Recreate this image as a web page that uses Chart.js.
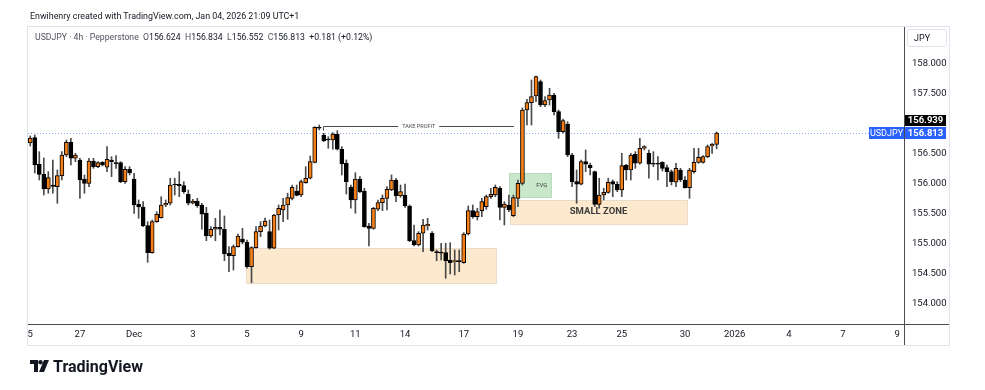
<!DOCTYPE html>
<html>
<head>
<meta charset="utf-8">
<script src="https://cdn.jsdelivr.net/npm/chart.js@4.4.1/dist/chart.umd.min.js"></script>
<style>
  body { margin: 0; background: #fff; font-family: Roboto, "Liberation Sans", sans-serif; color: #131722; }
  #wrap { position: relative; width: 985px; height: 390px; overflow: hidden; }
  #c { position: absolute; left: 0; top: 0; }
  .credit { position: absolute; left: 30px; top: 11px; font-size: 8.9px; white-space: nowrap; }
  .frame { position: absolute; left: 27px; top: 26px; width: 923px; height: 320px; border: 1px solid #e0e3eb; box-sizing: border-box; }
  .legend { position: absolute; left: 35px; top: 32px; font-size: 8.7px; color: #50535e; white-space: pre; }
  .legend b { font-weight: normal; color: #131722; }
  .jpy { position: absolute; left: 907px; top: 29px; width: 40px; height: 18px; border: 1px solid #e0e3eb; border-radius: 3px; box-sizing: border-box; font-size: 9px; line-height: 16px; padding-left: 6px; }
  .logo { position: absolute; left: 30px; top: 357px; display: flex; align-items: center; gap: 3px; font-weight: bold; font-size: 16px; color: #131722; }
</style>
</head>
<body>
<div id="wrap">
  <canvas id="c" width="985" height="390"></canvas>
  <div class="frame"></div>
  <div class="credit">Enwihenry created with TradingView.com, Jan 04, 2026 21:09 UTC+1</div>
  <div class="legend">USDJPY · 4h · Pepperstone  O<b>156.624</b>  H<b>156.834</b>  L<b>156.552</b>  C<b>156.813</b>  <b>+0.181 (+0.12%)</b></div>
  <div class="jpy">JPY</div>
  <div class="logo">
    <svg width="20" height="13" viewBox="0 0 20 13"><path d="M0 0h8v12H4V4H0z" fill="#131722"/><circle cx="10.5" cy="2.2" r="2.2" fill="#131722"/><path d="M14 0h5l-5 12H9z" fill="#131722"/></svg>
    <span>TradingView</span>
  </div>
</div>
<script>
// USDJPY 4h candles
const opens = [156.650,156.738,156.295,156.128,155.883,155.950,155.922,156.105,156.450,156.662,
  156.395,156.367,156.045,155.978,156.350,156.255,156.328,156.245,156.367,156.322,
  156.322,156.005,156.212,156.050,155.628,155.583,155.272,154.822,155.338,155.405,
  155.617,155.645,155.967,155.962,155.938,155.795,155.645,155.683,155.617,155.478,
  155.100,155.212,155.245,155.212,154.812,154.772,154.922,155.050,154.995,154.588,
  154.905,155.172,155.267,155.172,154.895,155.450,155.533,155.617,155.728,155.850,
  155.783,155.988,156.062,156.328,156.912,156.783,156.717,156.700,156.800,156.545,
  156.312,155.912,155.700,156.050,155.850,155.267,155.228,155.545,155.655,155.728,
  155.867,156.033,155.767,155.783,155.600,155.022,154.950,155.145,155.267,155.145,
  154.838,154.833,154.822,154.700,154.672,154.688,154.655,155.133,155.522,155.422,
  155.522,155.588,155.755,155.783,155.895,155.578,155.617,155.438,155.728,155.978,
  157.200,157.322,157.433,157.672,157.283,157.367,157.450,157.172,156.838,156.967,
  156.450,156.005,155.962,156.338,156.283,156.172,155.628,155.783,155.828,156.005,
  155.962,155.867,156.283,156.200,156.462,156.312,156.562,156.478,156.312,156.312,
  156.328,156.238,156.172,155.995,156.200,156.033,155.905,156.172,156.328,156.328,
  156.422,156.600,156.624];
const highs = [156.767,156.783,156.505,156.400,156.172,156.367,156.200,156.505,156.700,156.728,
  156.478,156.395,156.117,156.395,156.395,156.338,156.338,156.588,156.422,156.438,
  156.338,156.255,156.255,156.145,155.700,155.672,155.338,155.367,155.505,155.755,
  155.700,156.062,156.062,156.172,156.005,155.867,155.712,155.728,155.645,155.578,
  155.255,155.395,155.533,155.433,154.922,154.950,155.133,155.228,155.033,154.922,
  155.255,155.338,155.400,155.367,155.462,155.617,155.728,155.812,155.950,155.950,
  156.033,156.255,156.433,156.922,156.950,156.812,156.755,156.822,156.855,156.588,
  156.367,155.950,156.155,156.088,155.895,155.312,155.578,155.700,155.783,155.922,
  156.117,156.062,155.950,155.967,155.617,155.283,155.172,155.378,155.395,155.172,
  154.867,154.978,154.978,154.988,154.867,154.867,155.155,155.600,155.617,155.562,
  155.728,155.783,155.895,155.950,155.922,155.672,155.783,155.783,156.033,157.233,
  157.378,157.700,157.767,157.700,157.422,157.562,157.478,157.200,157.050,157.005,
  156.478,156.200,156.367,156.533,156.312,156.183,156.062,155.895,156.062,156.033,
  156.005,156.478,156.295,156.478,156.505,156.728,156.605,156.533,156.505,156.422,
  156.338,156.283,156.200,156.312,156.228,156.088,156.228,156.562,156.562,156.438,
  156.617,156.645,156.834];
const lows = [156.600,156.150,156.033,155.783,155.812,155.812,155.645,156.033,156.422,156.283,
  156.338,155.728,155.812,155.922,156.228,156.238,156.267,156.172,156.088,156.228,
  155.988,155.978,156.117,155.478,155.395,155.255,154.662,154.812,155.328,155.395,
  155.588,155.617,155.783,155.755,155.812,155.617,155.633,155.578,155.212,155.022,
  155.078,155.022,155.117,154.688,154.505,154.533,154.912,154.967,154.562,154.322,
  154.895,155.088,155.250,154.880,154.888,155.200,155.338,155.378,155.700,155.767,
  155.755,155.978,156.050,156.317,156.867,156.672,156.562,156.545,156.533,156.117,
  155.800,155.562,155.478,155.822,155.245,154.933,155.212,155.522,155.522,155.533,
  155.855,155.672,155.745,155.578,155.005,154.933,154.933,154.838,155.200,154.838,
  154.688,154.700,154.395,154.467,154.450,154.505,154.645,155.117,155.395,155.367,
  155.422,155.545,155.728,155.755,155.367,155.283,155.505,155.422,155.588,155.950,
  156.950,156.950,157.338,157.255,157.255,157.283,157.117,156.728,156.817,156.422,
  155.922,155.645,155.950,156.172,156.117,155.588,155.562,155.700,155.812,155.755,
  155.838,155.755,156.033,156.033,156.228,156.295,156.533,156.062,156.255,156.033,
  156.183,155.922,155.950,155.922,156.005,155.895,155.728,156.145,156.312,156.312,
  156.405,156.478,156.552];
const closes = [156.733,156.283,156.128,155.883,156.072,155.928,156.105,156.450,156.662,156.395,
  156.450,156.033,155.978,156.350,156.255,156.322,156.283,156.378,156.338,156.305,
  156.005,156.212,156.155,155.617,155.583,155.272,154.822,155.338,155.462,155.617,
  155.645,155.950,155.950,155.938,155.838,155.645,155.683,155.605,155.462,155.100,
  155.212,155.245,155.212,154.800,154.772,154.922,155.100,154.995,154.588,154.905,
  155.172,155.267,155.350,154.895,155.450,155.562,155.617,155.738,155.912,155.778,
  156.005,156.062,156.338,156.912,156.895,156.688,156.700,156.800,156.545,156.300,
  156.005,155.700,156.050,155.838,155.255,155.228,155.562,155.655,155.728,155.878,
  156.033,155.767,155.838,155.600,155.022,154.950,155.145,155.283,155.295,154.855,
  154.822,154.812,154.688,154.655,154.688,154.672,155.133,155.522,155.422,155.505,
  155.672,155.755,155.795,155.912,155.578,155.633,155.533,155.738,155.978,157.200,
  157.322,157.422,157.755,157.283,157.355,157.450,157.172,156.838,157.022,156.450,
  156.005,155.962,156.338,156.295,156.238,155.628,155.783,155.828,155.995,155.962,
  155.867,156.272,156.200,156.450,156.312,156.562,156.588,156.295,156.295,156.295,
  156.228,156.172,156.005,156.228,156.033,155.905,156.200,156.328,156.412,156.422,
  156.588,156.628,156.813];

// time axis: bar slots (incl. empty future space) and date labels
const slotCount = 194;
const tickIdx = [0, 11, 23, 36, 48, 60, 72, 83, 96, 108, 120, 131, 145, 156, 168, 180, 192];
const tickText = ['5', '27', 'Dec', '3', '5', '9', '11', '14', '17', '19', '23', '25', '30', '2026', '4', '7', '9'];
const priceTicks = [154, 154.5, 155, 155.5, 156, 156.5, 157, 157.5, 158];

// drawings on the chart (bar index / price)
const zones = [
  { from: 47.8, to: 103.2, top: 154.895, bottom: 154.312, fill: '#fde9cd', line: '#e9ddca' },
  { from: 106.3, to: 145.5, top: 155.708, bottom: 155.300, fill: '#fde9cd', line: '#e9ddca', text: 'SMALL ZONE', textAt: 0.5, font: 'bold 9.5px Roboto, sans-serif' },
  { from: 106.1, to: 115.3, top: 156.145, bottom: 155.745, fill: '#c9e7cb', line: '#b6dcb9', text: 'FVG', textAt: 0.78, font: '6px Roboto, sans-serif' }
];
const takeProfit = { from: 64.8, to: 107.1, price: 156.939, tick: 156.855, text: 'TAKE PROFIT' };
const lastPrice = closes[closes.length - 1];

const labels = Array.from({ length: slotCount }, () => '');
tickIdx.forEach((p, i) => { labels[p] = tickText[i]; });

const overlay = {
  id: 'overlay',
  beforeDatasetsDraw(chart) {
    const { ctx, chartArea: a } = chart;
    const x = chart.scales.x, y = chart.scales.y;
    ctx.save();
    ctx.beginPath();
    ctx.rect(a.left, a.top, a.right - a.left, a.bottom - a.top);
    ctx.clip();
    zones.forEach(z => {
      const x1 = Math.round(x.getPixelForValue(z.from)), x2 = Math.round(x.getPixelForValue(z.to));
      const y1 = Math.round(y.getPixelForValue(z.top)), y2 = Math.round(y.getPixelForValue(z.bottom));
      ctx.fillStyle = z.fill;
      ctx.fillRect(x1, y1, x2 - x1, y2 - y1);
      ctx.strokeStyle = z.line;
      ctx.lineWidth = 1;
      ctx.strokeRect(x1 + 0.5, y1 + 0.5, x2 - x1, y2 - y1);
      if (z.text) {
        ctx.fillStyle = '#3b3b3b';
        ctx.font = z.font;
        ctx.textAlign = 'center';
        ctx.textBaseline = 'middle';
        ctx.fillText(z.text, x1 + (x2 - x1) * z.textAt, (y1 + y2) / 2);
      }
    });

    // last price dotted line
    const yl = Math.round(y.getPixelForValue(lastPrice)) + 0.5;
    ctx.strokeStyle = 'rgba(41,98,255,0.55)';
    ctx.setLineDash([1, 2]);
    ctx.beginPath();
    ctx.moveTo(a.left, yl);
    ctx.lineTo(a.right, yl);
    ctx.stroke();
    ctx.setLineDash([]);

    // take profit line
    const tx1 = Math.round(x.getPixelForValue(takeProfit.from)) + 0.5;
    const tx2 = Math.round(x.getPixelForValue(takeProfit.to));
    const ty = Math.round(y.getPixelForValue(takeProfit.price)) + 0.5;
    const tyb = y.getPixelForValue(takeProfit.tick);
    ctx.font = '5.5px Roboto, sans-serif';
    const tw = ctx.measureText(takeProfit.text).width;
    const tc = (tx1 + tx2) / 2;
    ctx.strokeStyle = '#4a4a4a';
    ctx.lineWidth = 1;
    ctx.beginPath();
    ctx.moveTo(tx1, tyb);
    ctx.lineTo(tx1, ty);
    ctx.lineTo(tc - tw / 2 - 4, ty);
    ctx.moveTo(tc + tw / 2 + 4, ty);
    ctx.lineTo(tx2, ty);
    ctx.stroke();
    ctx.fillStyle = '#4a4a4a';
    ctx.textAlign = 'center';
    ctx.textBaseline = 'middle';
    ctx.fillText(takeProfit.text, tc, ty);
    ctx.restore();
  },
  afterDraw(chart) {
    const { ctx, chartArea: a } = chart;
    const y = chart.scales.y;
    ctx.save();
    // axis lines
    ctx.strokeStyle = '#4d4d4d';
    ctx.lineWidth = 1;
    ctx.beginPath();
    ctx.moveTo(a.right + 0.5, 27);
    ctx.lineTo(a.right + 0.5, 345);
    ctx.moveTo(27, a.bottom + 0.5);
    ctx.lineTo(949, a.bottom + 0.5);
    ctx.stroke();

    // price labels on the axis
    const yb = y.getPixelForValue(lastPrice);
    const blueTop = Math.round(yb - 6);
    const yk = y.getPixelForValue(takeProfit.price);
    const blackBottom = Math.min(Math.round(yk + 6), blueTop - 1);
    ctx.font = 'bold 9.5px Roboto, sans-serif';
    ctx.textBaseline = 'middle';
    ctx.textAlign = 'center';
    ctx.fillStyle = '#000';
    ctx.fillRect(a.right + 1, blackBottom - 11, 41, 11);
    ctx.fillStyle = '#fff';
    ctx.fillText(takeProfit.price.toFixed(3), a.right + 21.5, blackBottom - 5);
    ctx.fillStyle = '#2962ff';
    ctx.fillRect(a.right + 1, blueTop, 41, 12);
    ctx.fillRect(a.right - 35, blueTop, 35, 12);
    ctx.fillStyle = '#fff';
    ctx.fillText(lastPrice.toFixed(3), a.right + 21.5, blueTop + 6.5);
    ctx.font = '9px Roboto, sans-serif';
    ctx.fillText('USDJPY', a.right - 17.5, blueTop + 6.5);
    ctx.restore();
  }
};

new Chart(document.getElementById('c'), {
  type: 'bar',
  data: {
    labels: labels,
    datasets: [
      {
        label: 'body',
        data: opens.map((o, i) => [o, closes[i]]),
        backgroundColor: opens.map((o, i) => closes[i] >= o ? '#f57f17' : '#000'),
        borderColor: '#000',
        borderWidth: 1,
        borderSkipped: false,
        barThickness: 4,
        minBarLength: 1,
        grouped: false
      },
      {
        label: 'wick',
        data: lows.map((l, i) => [l, highs[i]]),
        backgroundColor: '#4a4a4a',
        barThickness: 1,
        grouped: false
      }
    ]
  },
  options: {
    responsive: false,
    animation: false,
    layout: { padding: { left: 28, top: 27, right: 37, bottom: 45 } },
    plugins: { legend: { display: false }, tooltip: { enabled: false } },
    scales: {
      x: {
        grid: { display: false, drawTicks: false },
        border: { display: false },
        ticks: {
          autoSkip: false, maxRotation: 0, padding: 5,
          color: '#131722', font: { size: 9.5, family: 'Roboto' },
          callback: (v, i) => labels[i]
        },
        afterFit: s => { s.height = 21; }
      },
      y: {
        position: 'right',
        min: 153.633,
        max: 158.583,
        grid: { display: false, drawTicks: false },
        border: { display: false },
        afterBuildTicks: s => { s.ticks = priceTicks.map(v => ({ value: v })); },
        ticks: {
          padding: 8, labelOffset: 2, color: '#131722', font: { size: 9.5, family: 'Roboto' },
          callback: v => v.toFixed(3)
        },
        afterFit: s => { s.width = 44; }
      }
    }
  },
  plugins: [overlay]
});
</script>
</body>
</html>
